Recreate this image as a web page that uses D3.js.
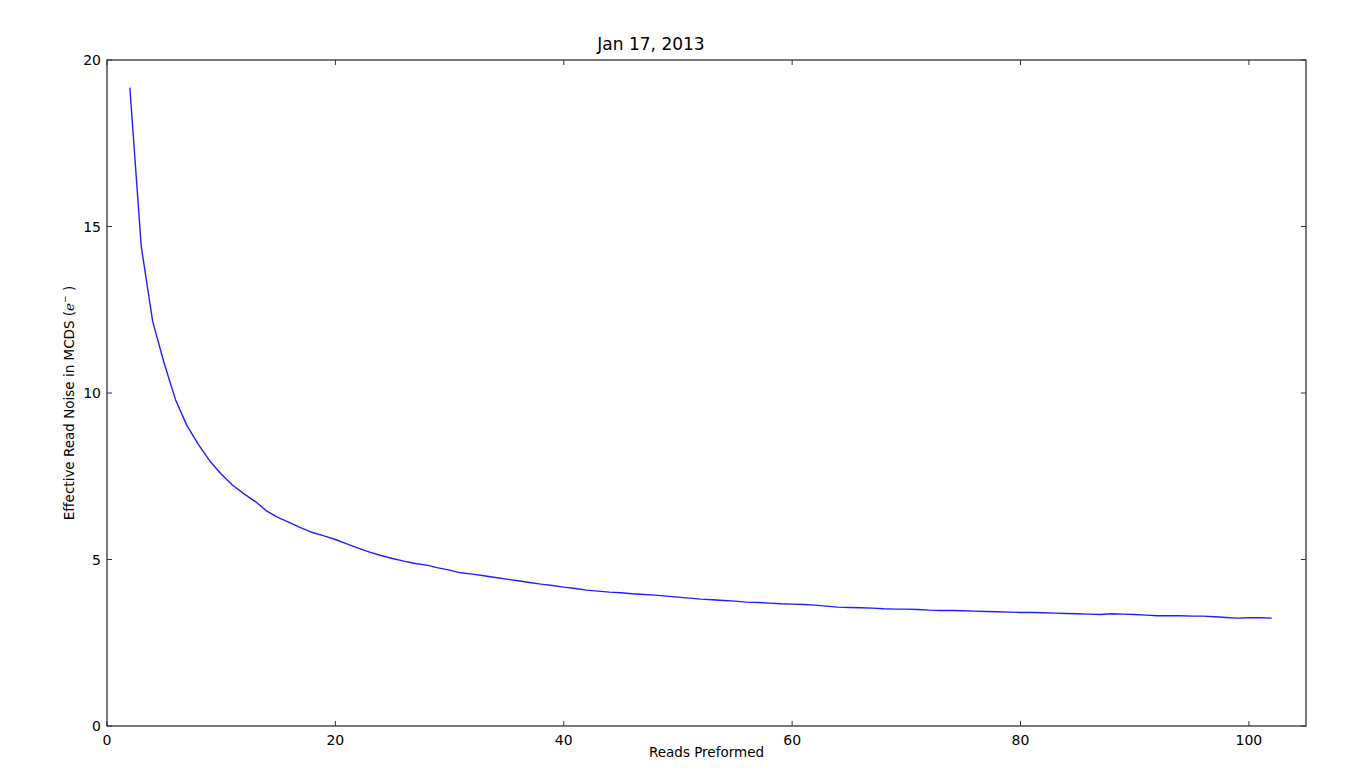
<!DOCTYPE html>
<html><head><meta charset="utf-8">
<script src="https://cdn.jsdelivr.net/npm/d3@7"></script>
<style>body{margin:0;background:#fff;} svg{display:block;} text{font-family:"DejaVu Sans",sans-serif;fill:#000;}</style>
</head><body>
<svg id="c" width="1360" height="783"></svg>
<script>
const title = "Jan 17, 2013";
const xLabel = "Reads Preformed";
const reads = d3.range(2, 103);
const noise = [19.17,14.40,12.15,10.90,9.80,9.02,8.46,7.96,7.57,7.23,
6.97,6.74,6.45,6.26,6.11,5.95,5.81,5.71,5.60,5.47,
5.34,5.22,5.12,5.03,4.95,4.88,4.83,4.75,4.68,4.60,
4.56,4.51,4.46,4.41,4.36,4.31,4.26,4.22,4.17,4.13,
4.08,4.05,4.02,4.00,3.97,3.95,3.93,3.90,3.87,3.84,
3.81,3.79,3.77,3.75,3.72,3.71,3.69,3.67,3.66,3.65,
3.63,3.60,3.57,3.56,3.55,3.54,3.52,3.51,3.51,3.50,
3.48,3.47,3.47,3.46,3.45,3.44,3.43,3.42,3.41,3.41,
3.40,3.39,3.38,3.37,3.36,3.35,3.37,3.36,3.35,3.33,
3.31,3.31,3.31,3.30,3.30,3.28,3.26,3.24,3.25,3.25,3.24];
const xTicks = [0,20,40,60,80,100];
const yTicks = [0,5,10,15,20];

const L=107, R=1306, T=60, B=726;
const svg = d3.select("#c");
const x = d3.scaleLinear().domain([0,105]).range([L,R]);
const y = d3.scaleLinear().domain([0,20]).range([B,T]);

const g = svg.append("g");
const line = d3.line().x((d,i)=>x(reads[i])).y(d=>y(d));
g.append("path").datum(noise).attr("d",line).attr("fill","none")
 .attr("stroke","#1f1fff").attr("stroke-width",1.4).attr("stroke-linejoin","round");

g.append("rect").attr("x",L).attr("y",T).attr("width",R-L).attr("height",B-T)
 .attr("fill","none").attr("stroke","#333").attr("stroke-width",1.3);

const tl=5;
xTicks.forEach(t=>{
  g.append("line").attr("x1",x(t)).attr("x2",x(t)).attr("y1",B).attr("y2",B-tl).attr("stroke","#333");
  g.append("line").attr("x1",x(t)).attr("x2",x(t)).attr("y1",T).attr("y2",T+tl).attr("stroke","#333");
  g.append("text").attr("x",x(t)).attr("y",B+19).attr("text-anchor","middle").attr("font-size",14).text(t);
});
yTicks.forEach(t=>{
  g.append("line").attr("x1",L).attr("x2",L+tl).attr("y1",y(t)).attr("y2",y(t)).attr("stroke","#333");
  g.append("line").attr("x1",R).attr("x2",R-tl).attr("y1",y(t)).attr("y2",y(t)).attr("stroke","#333");
  g.append("text").attr("x",L-6).attr("y",y(t)+5).attr("text-anchor","end").attr("font-size",14).text(t);
});

svg.append("text").attr("x",651).attr("y",50).attr("text-anchor","middle").attr("font-size",17).text(title);
svg.append("text").attr("x",(L+R)/2).attr("y",757).attr("text-anchor","middle").attr("font-size",13.5).text(xLabel);

const yl = svg.append("text").attr("transform",`translate(74,403) rotate(-90)`).attr("text-anchor","middle").attr("font-size",13.5);
yl.append("tspan").text("Effective Read Noise in MCDS (");
yl.append("tspan").attr("font-style","italic").attr("font-family","DejaVu Serif").text("e");
yl.append("tspan").attr("font-size",9).attr("dy",-6).text("\u2212");
yl.append("tspan").attr("dy",6).text(" )");
</script>
</body></html>
